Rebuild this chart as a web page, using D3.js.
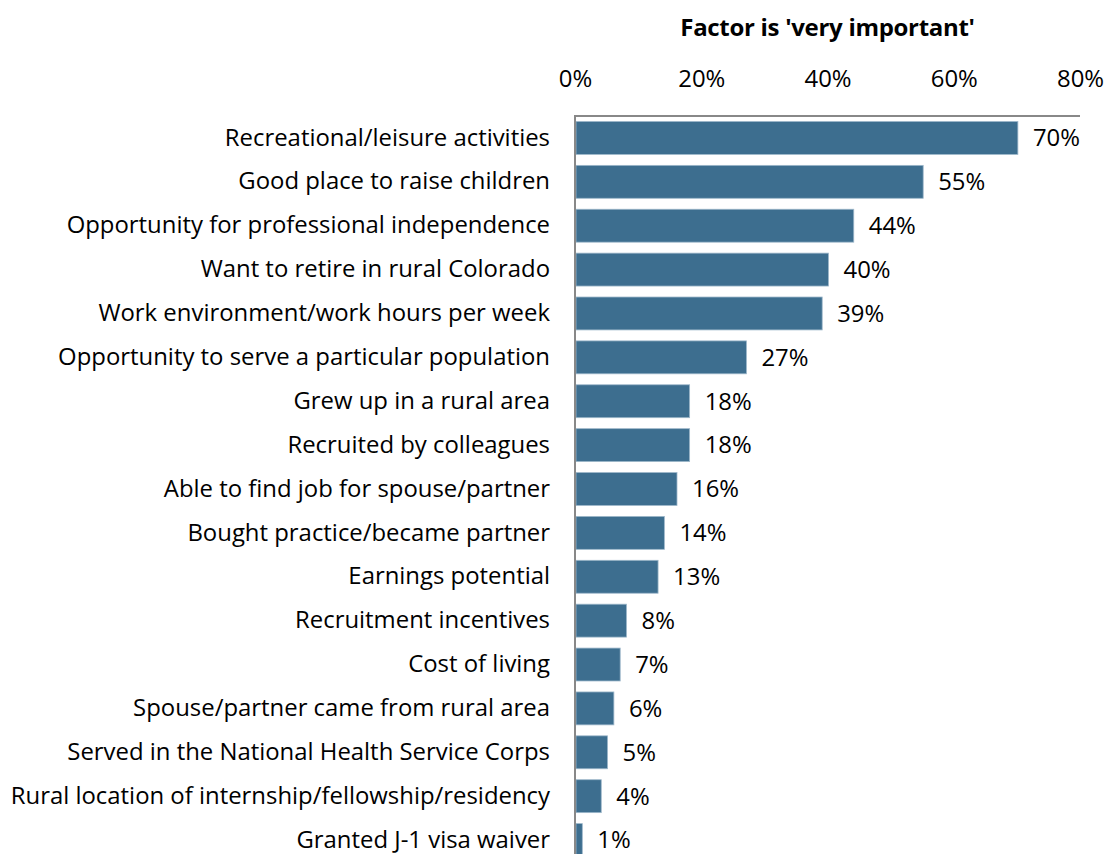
<!DOCTYPE html>
<html>
<head>
<meta charset="utf-8">
<script src="https://cdn.jsdelivr.net/npm/d3@7"></script>
<style>
  html, body { margin: 0; padding: 0; background: #fff; }
  svg { display: block; }
  text { font-family: "Open Sans", "Noto Sans", sans-serif; fill: #000; }
</style>
</head>
<body>
<svg id="chart" width="1107" height="854"></svg>
<script>
// Share of respondents rating each factor 'very important'
const categories = [
  "Recreational/leisure activities",
  "Good place to raise children",
  "Opportunity for professional independence",
  "Want to retire in rural Colorado",
  "Work environment/work hours per week",
  "Opportunity to serve a particular population",
  "Grew up in a rural area",
  "Recruited by colleagues",
  "Able to find job for spouse/partner",
  "Bought practice/became partner",
  "Earnings potential",
  "Recruitment incentives",
  "Cost of living",
  "Spouse/partner came from rural area",
  "Served in the National Health Service Corps",
  "Rural location of internship/fellowship/residency",
  "Granted J-1 visa waiver"
];
const values = [70, 55, 44, 40, 39, 27, 18, 18, 16, 14, 13, 8, 7, 6, 5, 4, 1];
const tickValues = [0, 20, 40, 60, 80];
const title = "Factor is 'very important'";

const svg = d3.select("#chart");
const plotLeft = 575, plotRight = 1080, plotTop = 116, plotBottom = 862;

const x = d3.scaleLinear().domain([0, 80]).range([plotLeft, plotRight]);
const y = d3.scaleBand().domain(categories).range([plotTop, plotBottom])
  .paddingInner(0.25).paddingOuter(0.125);

const fontSize = 23.9;

// Title
svg.append("text")
  .attr("x", (plotLeft + plotRight) / 2).attr("y", 36)
  .attr("text-anchor", "middle")
  .style("font-size", "24px").style("font-weight", "bold")
  .style("letter-spacing", "-0.3px")
  .text(title);

// Top axis tick labels
const xAxis = d3.axisTop(x).tickValues(tickValues)
  .tickFormat(d => d + "%").tickSize(0).tickPadding(0);
const gx = svg.append("g").attr("transform", `translate(0,${plotTop - 29})`).call(xAxis);
gx.select(".domain").remove();
gx.selectAll("text").style("font-size", fontSize + "px")
  .style("font-family", "'Open Sans', 'Noto Sans', sans-serif").attr("fill", "#000").attr("dy", 0);

// Bars
svg.append("g").selectAll("rect").data(values).join("rect")
  .attr("x", x(0) + 1)
  .attr("y", (d, i) => y(categories[i]))
  .attr("width", d => x(d) - x(0))
  .attr("height", y.bandwidth())
  .attr("fill", "#3d6e8f")
  .attr("stroke", "#9db7ca")
  .attr("stroke-width", 0.8);

// Value labels
svg.append("g").selectAll("text").data(values).join("text")
  .attr("x", d => x(d) + 16)
  .attr("y", (d, i) => y(categories[i]) + y.bandwidth() / 2)
  .attr("dy", "0.35em")
  .style("font-size", fontSize + "px")
  .text(d => d + "%");

// Category labels
const yAxis = d3.axisLeft(y).tickSize(0).tickPadding(25);
const gy = svg.append("g").attr("transform", `translate(${plotLeft},0)`).call(yAxis);
gy.select(".domain").remove();
gy.selectAll("text").style("font-size", fontSize + "px")
  .style("font-family", "'Open Sans', 'Noto Sans', sans-serif").attr("fill", "#000");

// Axis lines
svg.append("line").attr("x1", plotLeft).attr("x2", plotRight).attr("y1", plotTop).attr("y2", plotTop)
  .attr("stroke", "#888").attr("stroke-width", 2);
svg.append("line").attr("x1", plotLeft).attr("x2", plotLeft).attr("y1", plotTop - 1).attr("y2", 854)
  .attr("stroke", "#888").attr("stroke-width", 2);
</script>
</body>
</html>
